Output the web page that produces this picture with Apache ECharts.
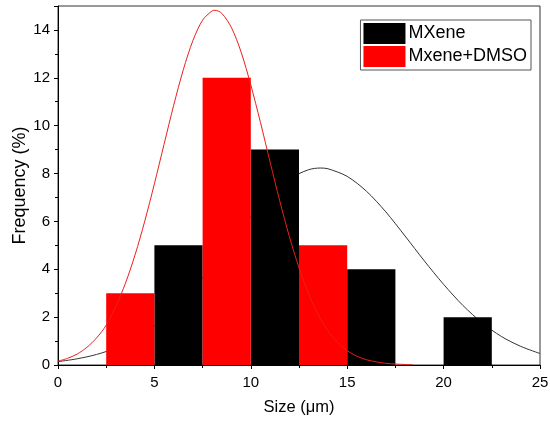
<html lang="en">
<head>
    <meta http-equiv="Content-Type" content="text/html; charset=UTF-8">
    <script type="text/javascript" src="https://cdn.jsdelivr.net/npm/echarts@6/dist/echarts.min.js"></script>
    <style>html,body{margin:0;padding:0;background:#fff;}</style>
</head>
<body>
<div id="main" style="height:423px;width:550px;"></div>
<script type="text/javascript">
    // histogram bins: [start, end] and heights (%)
    var mxeneStart = [5, 10, 15, 20];
    var mxeneEnd = [7.5, 12.5, 17.5, 22.5];
    var mxeneFreq = [5, 9, 4, 2];
    var dmsoStart = [2.5, 7.5, 12.5];
    var dmsoEnd = [5, 10, 15];
    var dmsoFreq = [3, 12, 5];

    // fitted curves
    var blackCurveX = [0, 1, 2, 3, 4, 5, 6, 7, 8, 9, 10, 11, 12, 13, 13.6, 14, 15, 16, 17, 18, 19, 20, 21, 22, 23, 24, 25];
    var blackCurveY = [0.14, 0.26, 0.44, 0.71, 1.10, 1.64, 2.33, 3.18, 4.15, 5.19, 6.2, 7.1, 7.78, 8.16, 8.23, 8.2, 7.88, 7.26, 6.4, 5.39, 4.35, 3.37, 2.49, 1.76, 1.19, 0.78, 0.48];
    var redCurveX = [0, 0.5, 1, 1.5, 2, 2.5, 3, 3.5, 4, 4.5, 5, 5.5, 6, 6.5, 7, 7.5, 8, 8.14, 8.5, 9, 9.5, 10, 10.5, 11, 11.5, 12, 12.5, 13, 13.5, 14, 14.5, 15, 15.5, 16, 16.5, 17, 17.5, 18, 18.4];
    var redCurveY = [0.16, 0.28, 0.46, 0.74, 1.13, 1.66, 2.45, 3.42, 4.61, 6.01, 7.57, 9.22, 10.85, 12.34, 13.56, 14.41, 14.8, 14.82, 14.69, 14.09, 13.07, 11.7, 10.14, 8.48, 6.86, 5.37, 4.06, 2.97, 2.09, 1.43, 0.94, 0.60, 0.37, 0.22, 0.13, 0.07, 0.04, 0.02, 0.01];

    function zip3(a, b, c) {
        var out = [];
        for (var i = 0; i < a.length; i++) out.push([a[i], b[i], c[i]]);
        return out;
    }
    function zip2(a, b) {
        var out = [];
        for (var i = 0; i < a.length; i++) out.push([a[i], b[i]]);
        return out;
    }

    function renderBar(params, api) {
        var p0 = api.coord([api.value(0), api.value(2)]);
        var p1 = api.coord([api.value(1), 0]);
        return {
            type: 'rect',
            shape: {x: p0[0], y: p0[1], width: p1[0] - p0[0], height: p1[1] - p0[1]},
            style: api.style()
        };
    }

    var font = 'Liberation Sans, Arial, sans-serif';
    var myChart = echarts.init(document.getElementById('main'));

    var option = {
        animation: false,
        textStyle: {fontFamily: font},
        grid: {left: 58, right: 10, top: 6, bottom: 58, show: true, borderColor: '#333', borderWidth: 1,
            outerBoundsMode: 'none', containLabel: false},
        legend: {
            data: ['MXene', 'Mxene+DMSO'],
            orient: 'vertical',
            right: 19,
            top: 20,
            icon: 'rect',
            itemWidth: 42,
            itemHeight: 21,
            itemGap: 2,
            padding: [3, 4, 3, 3],
            borderColor: '#555',
            borderWidth: 1,
            textStyle: {fontSize: 18, color: '#000', fontFamily: font, padding: [0, 0, 0, -2]}
        },
        xAxis: {
            type: 'value',
            min: 0, max: 25, interval: 5,
            name: 'Size (μm)',
            nameLocation: 'middle',
            nameGap: 34,
            nameMoveOverlap: false,
            nameTextStyle: {fontSize: 16.5, color: '#000'},
            axisLine: {lineStyle: {color: '#000'}},
            axisTick: {show: true, length: 4, lineStyle: {color: '#000'}},
            minorTick: {show: true, splitNumber: 2, length: 3, lineStyle: {color: '#000'}},
            axisLabel: {fontSize: 15, color: '#000', margin: 10},
            splitLine: {show: false}
        },
        yAxis: {
            type: 'value',
            min: 0, max: 15, interval: 2,
            name: 'Frequency (%)',
            nameLocation: 'middle',
            nameGap: 29,
            nameMoveOverlap: false,
            nameTextStyle: {fontSize: 18, color: '#000'},
            axisLine: {show: true, lineStyle: {color: '#000'}},
            axisTick: {show: true, length: 4, lineStyle: {color: '#000'}},
            minorTick: {show: true, splitNumber: 2, length: 3, lineStyle: {color: '#000'}},
            axisLabel: {fontSize: 15, color: '#000', margin: 8,
                formatter: function (v) { return v % 2 === 0 ? v : ''; }},
            splitLine: {show: false}
        },
        series: [
            {
                name: 'MXene fit',
                type: 'line',
                z: 1,
                data: zip2(blackCurveX, blackCurveY),
                smooth: 0.3,
                showSymbol: false,
                lineStyle: {color: '#333', width: 1}
            },
            {
                name: 'MXene',
                type: 'custom',
                z: 2,
                renderItem: renderBar,
                itemStyle: {color: '#000'},
                encode: {x: [0, 1], y: 2},
                data: zip3(mxeneStart, mxeneEnd, mxeneFreq)
            },
            {
                name: 'Mxene+DMSO',
                type: 'custom',
                z: 3,
                renderItem: renderBar,
                itemStyle: {color: '#ff0000'},
                encode: {x: [0, 1], y: 2},
                data: zip3(dmsoStart, dmsoEnd, dmsoFreq)
            },
            {
                name: 'DMSO fit',
                type: 'line',
                z: 4,
                data: zip2(redCurveX, redCurveY),
                smooth: 0.3,
                showSymbol: false,
                lineStyle: {color: '#e8201c', width: 1}
            }
        ]
    };

    myChart.setOption(option);
</script>
</body>
</html>
